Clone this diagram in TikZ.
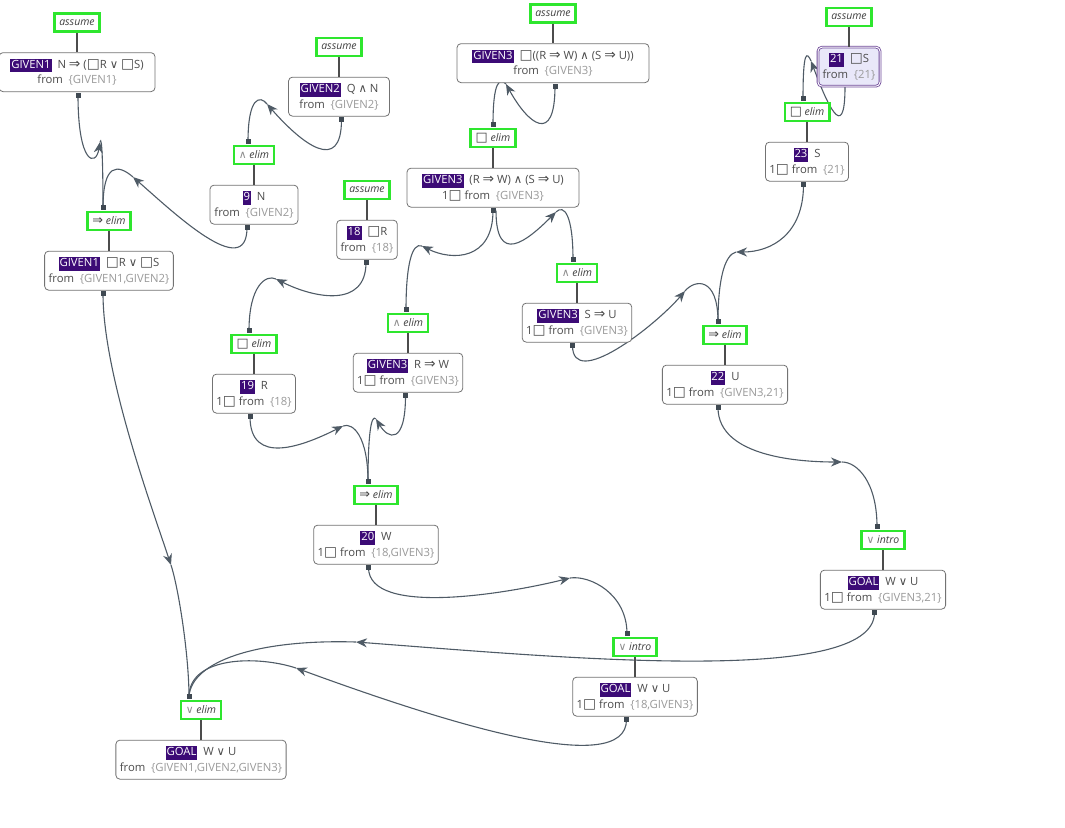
\documentclass[tikz,border=0pt]{standalone}
\usepackage{fontspec}
\setmainfont{Open Sans}
\newfontfamily\simb{DejaVu Sans}[Scale=1.22]
\newfontfamily\simbm{DejaVu Sans}[Scale=1.02]
\usetikzlibrary{positioning,arrows.meta,calc,backgrounds}

\definecolor{verde}{HTML}{2EE62E}
\definecolor{mov}{HTML}{3C0B76}
\definecolor{ardezie}{HTML}{4F5B66}
\definecolor{cenusiu}{HTML}{9A9A9A}
\definecolor{lavanda}{HTML}{E9E8F9}

\newcommand{\eti}[1]{{\setlength{\fboxsep}{1pt}\colorbox{mov}{\rule[-2.8pt]{0pt}{11.5pt}\textcolor{white}{#1}}}}
\newcommand{\din}[1]{from\enspace\textcolor{cenusiu}{\{#1\}}}
\newcommand{\sImp}{{\simb ⇒}}
\newcommand{\sSau}{{\simbm ∨}}
\newcommand{\sSi}{{\simbm ∧}}
\newcommand{\sNec}{{\simb □}}

\tikzset{
  regula/.style   = {draw=verde, line width=2.5pt, fill=white, inner xsep=5pt, inner ysep=2pt,
                     minimum height=18pt, font=\fontsize{10.5}{12}\selectfont\itshape, text=black!75},
  formula/.style  = {draw=black!55, line width=0.8pt, rounded corners=4pt, fill=white, align=center,
                     inner xsep=4pt, minimum height=39pt, font=\fontsize{11.3}{15.5}\selectfont, text=black!70},
  ales/.style     = {formula, draw=mov!75, double=white, double distance=1pt, fill=lavanda},
  leg/.style      = {draw=black!70, line width=2.5pt},
  legatura/.style = {draw=ardezie, line width=1.1pt},
  sageata/.style  = {legatura, -{Stealth[length=11pt,width=9pt,inset=3.5pt]}},
  marcaj/.style   = {fill=ardezie!80!black, inner sep=0pt, minimum size=5pt}
}

\begin{document}
\begin{tikzpicture}[x=1pt, y=-1pt, node distance=19.5pt]
  \useasboundingbox (0,0) rectangle (1065,827);

  % reguli
  \node[regula] (rg1)    at (77,22.5) {assume};
  \node[regula] (rg2)    at (339,47)  {assume};
  \node[regula] (rg3)    at (553,13.5) {assume};
  \node[regula] (r21)    at (849,17)  {assume};
  \node[regula] (r9)     at (254,155) {\textcolor{black!45}{\sSi} elim};
  \node[regula] (rg1b)   at (109,221) {\sImp\ elim};
  \node[regula] (rg3b)   at (493,138) {\sNec\ elim};
  \node[regula] (r23)    at (807,112) {\sNec\ elim};
  \node[regula] (r18)    at (367,190) {assume};
  \node[regula] (r19)    at (254,344) {\sNec\ elim};
  \node[regula] (rg3rw)  at (408,323) {\textcolor{black!45}{\sSi} elim};
  \node[regula] (rg3su)  at (577,273) {\textcolor{black!45}{\sSi} elim};
  \node[regula] (r22)    at (725,335) {\sImp\ elim};
  \node[regula] (r20)    at (376,495) {\sImp\ elim};
  \node[regula] (rgoalA) at (883,540) {\textcolor{black!45}{\sSau} intro};
  \node[regula] (rgoalB) at (635,647) {\textcolor{black!45}{\sSau} intro};
  \node[regula] (rgoal)  at (201,710) {\textcolor{black!45}{\sSau} elim};

  % formule
  \node[formula, below=of rg1,    minimum width=156pt] (g1)    {\eti{GIVEN1}\ \ N \sImp\ (\sNec R \sSau\ \sNec S)\\ \din{GIVEN1}};
  \node[formula, below=of rg2,    minimum width=101pt] (g2)    {\eti{GIVEN2}\ \ Q \sSi\ N\\ \din{GIVEN2}};
  \node[formula, below=of rg3,    minimum width=192pt] (g3)    {\eti{GIVEN3}\ \ \sNec((R \sImp\ W) \sSi\ (S \sImp\ U))\\ \din{GIVEN3}};
  \node[ales,    below=of r21,    minimum width=62pt]  (s21)   {\eti{21}\ \ \sNec S\\ \din{21}};
  \node[formula, below=of r9,     minimum width=88pt]  (n9)    {\eti{9}\ \ N\\ \din{GIVEN2}};
  \node[formula, below=of rg1b,   minimum width=128pt] (g1b)   {\eti{GIVEN1}\ \ \sNec R \sSau\ \sNec S\\ \din{GIVEN1,GIVEN2}};
  \node[formula, below=of rg3b,   minimum width=172pt] (g3b)   {\eti{GIVEN3}\ \ (R \sImp\ W) \sSi\ (S \sImp\ U)\\ 1\sNec\ \din{GIVEN3}};
  \node[formula, below=of r23,    minimum width=79pt]  (n23)   {\eti{23}\ \ S\\ 1\sNec\ \din{21}};
  \node[formula, below=of r18,    minimum width=60pt]  (n18)   {\eti{18}\ \ \sNec R\\ \din{18}};
  \node[formula, below=of r19,    minimum width=80pt]  (n19)   {\eti{19}\ \ R\\ 1\sNec\ \din{18}};
  \node[formula, below=of rg3rw,  minimum width=109pt] (g3rw)  {\eti{GIVEN3}\ \ R \sImp\ W\\ 1\sNec\ \din{GIVEN3}};
  \node[formula, below=of rg3su,  minimum width=109pt] (g3su)  {\eti{GIVEN3}\ \ S \sImp\ U\\ 1\sNec\ \din{GIVEN3}};
  \node[formula, below=of r22,    minimum width=122pt] (n22)   {\eti{22}\ \ U\\ 1\sNec\ \din{GIVEN3,21}};
  \node[formula, below=of r20,    minimum width=121pt] (n20)   {\eti{20}\ \ W\\ 1\sNec\ \din{18,GIVEN3}};
  \node[formula, below=of rgoalA, minimum width=121pt] (goalA) {\eti{GOAL}\ \ W \sSau\ U\\ 1\sNec\ \din{GIVEN3,21}};
  \node[formula, below=of rgoalB, minimum width=121pt] (goalB) {\eti{GOAL}\ \ W \sSau\ U\\ 1\sNec\ \din{18,GIVEN3}};
  \node[formula, below=of rgoal,  minimum width=170pt] (goal)  {\eti{GOAL}\ \ W \sSau\ U\\ \din{GIVEN1,GIVEN2,GIVEN3}};

  \foreach \r/\f in {rg1/g1, rg2/g2, rg3/g3, r21/s21, r9/n9, rg1b/g1b, rg3b/g3b, r23/n23, r18/n18,
                     r19/n19, rg3rw/g3rw, rg3su/g3su, r22/n22, r20/n20, rgoalA/goalA, rgoalB/goalB, rgoal/goal}
    \draw[leg] (\r) -- (\f);

  % varfuri de sageti
  \coordinate (v1)  at (100,142);
  \coordinate (v2)  at (133,177);
  \coordinate (v3)  at (267,104);
  \coordinate (v4)  at (506,84);
  \coordinate (v5)  at (811,61);
  \coordinate (v6)  at (422,246);
  \coordinate (v7)  at (556,212);
  \coordinate (v8)  at (276,279);
  \coordinate (v9)  at (343,426);
  \coordinate (v10) at (376,419);
  \coordinate (v11) at (685,291);
  \coordinate (v12) at (736,252);
  \coordinate (v13) at (842,462);
  \coordinate (v14) at (570,578);
  \coordinate (v15) at (356,642);
  \coordinate (v16) at (296,668);
  \coordinate (v17) at (171,565);

  \begin{scope}[on background layer]
    % premise -> regula
    \draw[sageata] ([xshift=1pt,yshift=-3pt]g1.south) node[marcaj]{} .. controls +(0,70) and +(-4,25) .. (v1);
    \draw[legatura] (v1) .. controls +(2,-8) and +(0,-40) .. ([xshift=-6pt,yshift=3pt]rg1b.north) node[marcaj]{};

    \draw[sageata] ([xshift=-7pt,yshift=-3pt]n9.south) node[marcaj]{} .. controls +(0,55) and +(40,35) .. (v2);
    \draw[legatura] (v2) .. controls +(-15,-13) and +(0,-45) .. ([xshift=-6pt,yshift=3pt]rg1b.north) node[marcaj]{};

    \draw[sageata] ([xshift=2.5pt,yshift=-3pt]g2.south) node[marcaj]{} .. controls +(0,55) and +(35,40) .. (v3);
    \draw[legatura] (v3) .. controls +(-7,-9) and +(0,-45) .. ([xshift=-6pt,yshift=3pt]r9.north) node[marcaj]{};

    \draw[sageata] ([xshift=2pt,yshift=-3pt]g3.south) node[marcaj]{} .. controls +(0,60) and +(22,40) .. (v4);
    \draw[legatura] (v4) .. controls +(-6,-6) and +(0,-45) .. ([yshift=3pt]rg3b.north) node[marcaj]{};

    \draw[sageata] ([xshift=-4pt]s21.south) .. controls +(0,60) and +(15,40) .. (v5);
    \draw[legatura] (v5) .. controls +(-4,-9) and +(0,-50) .. ([xshift=-4pt,yshift=3pt]r23.north) node[marcaj]{};

    \draw[sageata] ([yshift=-3pt]g3b.south) node[marcaj]{} .. controls +(0,50) and +(30,15) .. (v6);
    \draw[legatura] (v6) .. controls +(-10,-4) and +(0,-45) .. ([xshift=-2pt,yshift=3pt]rg3rw.north) node[marcaj]{};

    \draw[sageata] ([xshift=3pt,yshift=-3pt]g3b.south) .. controls +(0,55) and +(-30,30) .. (v7);
    \draw[legatura] (v7) .. controls +(8,-8) and +(0,-45) .. ([xshift=-4pt,yshift=3pt]rg3su.north) node[marcaj]{};

    \draw[sageata] ([xshift=-1pt,yshift=-3pt]n18.south) node[marcaj]{} .. controls +(0,45) and +(40,20) .. (v8);
    \draw[legatura] (v8) .. controls +(-10,-5) and +(0,-45) .. ([xshift=-5pt,yshift=3pt]r19.north) node[marcaj]{};

    \draw[sageata] ([xshift=-4pt,yshift=-3pt]n19.south) node[marcaj]{} .. controls +(0,50) and +(-40,20) .. (v9);
    \draw[legatura] (v9) .. controls +(10,-4) and +(0,-45) .. ([xshift=-8pt,yshift=3pt]r20.north) node[marcaj]{};

    \draw[sageata] ([xshift=-2.5pt,yshift=-3pt]g3rw.south) node[marcaj]{} .. controls +(0,50) and +(12,20) .. (v10);
    \draw[legatura] (v10) .. controls +(-5,-6) and +(0,-45) .. ([xshift=-8pt,yshift=3pt]r20.north) node[marcaj]{};

    \draw[sageata] ([xshift=-4.5pt,yshift=-3pt]g3su.south) node[marcaj]{} .. controls +(0,45) and +(-30,35) .. (v11);
    \draw[legatura] (v11) .. controls +(10,-12) and +(0,-45) .. ([xshift=-7pt,yshift=3pt]r22.north) node[marcaj]{};

    \draw[sageata] ([xshift=-3.5pt,yshift=-3pt]n23.south) node[marcaj]{} .. controls +(0,50) and +(35,0) .. (v12);
    \draw[legatura] (v12) .. controls +(-12,3) and +(0,-40) .. ([xshift=-7pt,yshift=3pt]r22.north) node[marcaj]{};

    \draw[sageata] ([xshift=-7pt,yshift=-3pt]n22.south) node[marcaj]{} .. controls +(0,50) and +(-40,0) .. (v13);
    \draw[legatura] (v13) .. controls +(15,0) and +(0,-45) .. ([xshift=-6pt,yshift=3pt]rgoalA.north) node[marcaj]{};

    \draw[sageata] ([xshift=-7.5pt,yshift=-3pt]n20.south) node[marcaj]{} .. controls +(0,50) and +(-60,15) .. (v14);
    \draw[legatura] (v14) .. controls +(20,-3) and +(0,-40) .. ([xshift=-8pt,yshift=3pt]rgoalB.north) node[marcaj]{};

    \draw[sageata] ([xshift=-8.5pt,yshift=-3pt]goalA.south) node[marcaj]{} .. controls +(0,75) and +(200,15) .. (v15);
    \draw[legatura] (v15) .. controls +(-100,-3) and +(2,-35) .. ([xshift=-12pt,yshift=3pt]rgoal.north) node[marcaj]{};

    \draw[sageata] ([xshift=-8.5pt,yshift=-3pt]goalB.south) node[marcaj]{} .. controls +(0,60) and +(150,55) .. (v16);
    \draw[legatura] (v16) .. controls +(-40,-13) and +(0,-40) .. ([xshift=-12pt,yshift=3pt]rgoal.north) node[marcaj]{};

    \draw[sageata] ([xshift=-6pt,yshift=-3pt]g1b.south) node[marcaj]{} .. controls +(0,80) and +(-20,-60) .. (v17);
    \draw[legatura] (v17) .. controls +(8,25) and +(0,-40) .. ([xshift=-12pt,yshift=3pt]rgoal.north) node[marcaj]{};
  \end{scope}
\end{tikzpicture}
\end{document}
